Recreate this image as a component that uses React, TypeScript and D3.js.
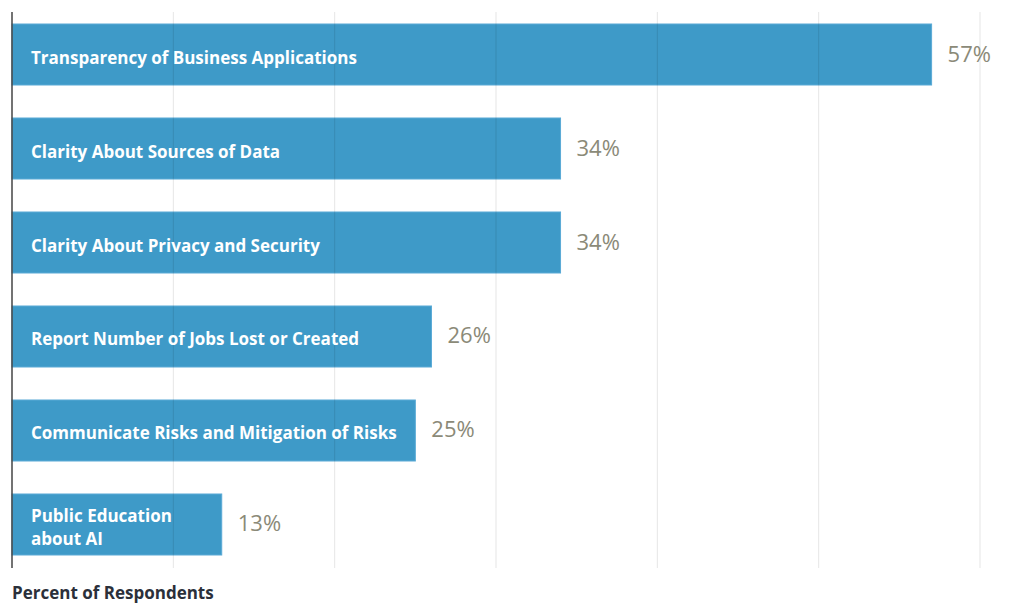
import React from "react";
import * as d3 from "d3";

const categories: string[][] = [
  ["Transparency of Business Applications"],
  ["Clarity About Sources of Data"],
  ["Clarity About Privacy and Security"],
  ["Report Number of Jobs Lost or Created"],
  ["Communicate Risks and Mitigation of Risks"],
  ["Public Education", "about AI"],
];
const values: number[] = [57, 34, 34, 26, 25, 13];
const gridTicks: number[] = [10, 20, 30, 40, 50, 60];
const axisTitle = "Percent of Respondents";

const W = 1024;
const H = 610;

export default function App() {
  const x = d3.scaleLinear().domain([0, 60]).range([12, 980]);
  const y = d3
    .scaleBand<number>()
    .domain(d3.range(categories.length))
    .range([24, 555])
    .paddingInner(0.351)
    .paddingOuter(0);
  const font = "'Open Sans', sans-serif";
  return (
    <svg
      width={W}
      height={H}
      style={{ position: "absolute", left: 0, top: 0, display: "block" }}
    >
      <rect width={W} height={H} fill="#fff" />
      {values.map((v, i) => (
        <rect
          key={"b" + i}
          x={x(0)}
          y={y(i)!}
          width={x(v) - x(0)}
          height={y.bandwidth()}
          fill="#3e9ac8"
          stroke="#5aaad6"
          strokeWidth={1}
        />
      ))}
      {gridTicks.map((t) => (
        <line
          key={"g" + t}
          x1={x(t)}
          x2={x(t)}
          y1={12}
          y2={568}
          stroke="#000"
          strokeOpacity={0.1}
          strokeWidth={1}
        />
      ))}
      <line x1={x(0)} x2={x(0)} y1={12} y2={568} stroke="#444" strokeWidth={1.5} />
      {categories.map((lines, i) => {
        const cy = y(i)! + y.bandwidth() / 2 + 2;
        const lh = 23;
        const start = cy - ((lines.length - 1) * lh) / 2;
        return (
          <text
            key={"l" + i}
            x={31}
            fill="#fff"
            fontFamily={font}
            fontWeight={700}
            fontSize={17}
            dominantBaseline="central"
          >
            {lines.map((ln, j) => (
              <tspan key={j} x={31} y={start + j * lh}>
                {ln}
              </tspan>
            ))}
          </text>
        );
      })}
      {values.map((v, i) => (
        <text
          key={"v" + i}
          x={x(v) + 16}
          y={y(i)! + y.bandwidth() / 2 - 2}
          fill="#8b8a78"
          fontFamily={font}
          fontSize={22}
          dominantBaseline="central"
        >
          {v}%
        </text>
      ))}
      <text
        x={12}
        y={592}
        fill="#2b303a"
        fontFamily={font}
        fontWeight={700}
        fontSize={17}
        dominantBaseline="central"
      >
        {axisTitle}
      </text>
    </svg>
  );
}
